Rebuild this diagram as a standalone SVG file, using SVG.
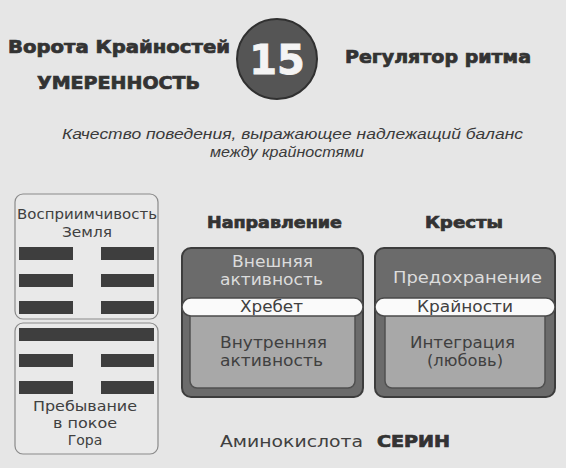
<svg xmlns="http://www.w3.org/2000/svg" width="566" height="468" viewBox="0 0 566 468">
<style>
.bg{fill:#e6e6e6}
.hd{font-family:"DejaVu Sans","Liberation Sans",sans-serif;font-weight:bold;fill:#333333;stroke:#333333;stroke-width:0.7}
.tx{font-family:"DejaVu Sans","Liberation Sans",sans-serif;font-size:15px;fill:#404040}
.sm{font-family:"DejaVu Sans","Liberation Sans",sans-serif;font-size:14px;fill:#404040}
.lt{font-family:"DejaVu Sans","Liberation Sans",sans-serif;font-size:15px;fill:#dcdcdc}
.it{font-family:"Liberation Sans","DejaVu Sans",sans-serif;font-style:italic;font-size:15px;fill:#3a3a3a}
.lbox{fill:#e9e9e9;stroke:#8a8a8a;stroke-width:1.2}
.bar{fill:#3e3e3e}
.outer{fill:#6b6b6b;stroke:#3d3d3d;stroke-width:2}
.inner{fill:#a8a8a8;stroke:#505050;stroke-width:1.5}
.pill{fill:#fafafa;stroke:#4a4a4a;stroke-width:1.5}
</style>
<rect class="bg" x="0" y="0" width="566" height="468"/>

<g id="header">
<text class="hd" x="8" y="53" font-size="17" textLength="222" lengthAdjust="spacingAndGlyphs">Ворота Крайностей</text>
<text class="hd" x="37" y="89" font-size="17" textLength="163" lengthAdjust="spacingAndGlyphs">УМЕРЕННОСТЬ</text>
<text class="hd" x="345" y="63" font-size="17" textLength="186" lengthAdjust="spacingAndGlyphs">Регулятор ритма</text>
</g>

<g id="gate-number">
<circle cx="277" cy="59" r="40" fill="#555555" stroke="#303030" stroke-width="2"/>
<text x="277" y="74" text-anchor="middle" font-family="DejaVu Sans, Liberation Sans, sans-serif" font-weight="bold" font-size="40" fill="#f4f4f4" stroke="#f4f4f4" stroke-width="0.8">15</text>
</g>

<g id="description">
<text class="it" x="62" y="139" textLength="461" lengthAdjust="spacingAndGlyphs">Качество поведения, выражающее надлежащий баланс</text>
<text class="it" x="210" y="157" textLength="154" lengthAdjust="spacingAndGlyphs">между крайностями</text>
</g>

<g id="hexagram-top">
<rect class="lbox" x="15" y="194" width="143" height="125" rx="8"/>
<text class="sm" x="17" y="219" textLength="140" lengthAdjust="spacingAndGlyphs">Восприимчивость</text>
<text class="sm" x="62" y="237" textLength="50" lengthAdjust="spacingAndGlyphs">Земля</text>
<rect class="bar" x="19" y="247" width="54" height="13"/>
<rect class="bar" x="101" y="247" width="53" height="13"/>
<rect class="bar" x="19" y="274" width="54" height="13"/>
<rect class="bar" x="101" y="274" width="53" height="13"/>
<rect class="bar" x="19" y="301" width="54" height="13"/>
<rect class="bar" x="101" y="301" width="53" height="13"/>
</g>

<g id="hexagram-bottom">
<rect class="lbox" x="15" y="323" width="143" height="131" rx="8"/>
<rect class="bar" x="19" y="328" width="135" height="13"/>
<rect class="bar" x="19" y="354" width="54" height="13"/>
<rect class="bar" x="101" y="354" width="53" height="13"/>
<rect class="bar" x="19" y="381" width="54" height="13"/>
<rect class="bar" x="101" y="381" width="53" height="13"/>
<text class="sm" x="33" y="411" textLength="104" lengthAdjust="spacingAndGlyphs">Пребывание</text>
<text class="sm" x="53" y="428" textLength="64" lengthAdjust="spacingAndGlyphs">в покое</text>
<text class="sm" x="85" y="445" text-anchor="middle">Гора</text>
</g>

<g id="direction">
<text class="hd" x="207" y="228" font-size="15" textLength="135" lengthAdjust="spacingAndGlyphs">Направление</text>
<rect class="outer" x="182" y="248" width="181" height="149" rx="9"/>
<path class="inner" d="M190 315 H355 V381 a7 7 0 0 1 -7 7 H197 a7 7 0 0 1 -7 -7 Z"/>
<rect class="pill" x="182" y="298" width="181" height="18" rx="9"/>
<text class="lt" x="232" y="267" textLength="81" lengthAdjust="spacingAndGlyphs">Внешняя</text>
<text class="lt" x="220" y="285" textLength="103" lengthAdjust="spacingAndGlyphs">активность</text>
<text class="tx" x="240" y="312" textLength="63" lengthAdjust="spacingAndGlyphs">Хребет</text>
<text class="tx" x="220" y="348" textLength="107" lengthAdjust="spacingAndGlyphs">Внутренняя</text>
<text class="tx" x="220" y="366" textLength="103" lengthAdjust="spacingAndGlyphs">активность</text>
</g>

<g id="crosses">
<text class="hd" x="425" y="228" font-size="15" textLength="78" lengthAdjust="spacingAndGlyphs">Кресты</text>
<rect class="outer" x="375" y="248" width="180" height="149" rx="9"/>
<path class="inner" d="M385 315 H545 V381 a7 7 0 0 1 -7 7 H392 a7 7 0 0 1 -7 -7 Z"/>
<rect class="pill" x="375" y="298" width="180" height="18" rx="9"/>
<text class="lt" x="393" y="283" textLength="149" lengthAdjust="spacingAndGlyphs">Предохранение</text>
<text class="tx" x="417" y="312" textLength="96" lengthAdjust="spacingAndGlyphs">Крайности</text>
<text class="tx" x="410" y="348" textLength="105" lengthAdjust="spacingAndGlyphs">Интеграция</text>
<text class="tx" x="427" y="366" textLength="76" lengthAdjust="spacingAndGlyphs">(любовь)</text>
</g>

<g id="amino">
<text class="tx" x="220" y="447" textLength="143" lengthAdjust="spacingAndGlyphs">Аминокислота</text>
<text class="hd" x="377" y="447" font-size="15" textLength="73" lengthAdjust="spacingAndGlyphs">СЕРИН</text>
</g>

<g id="connectors"/>
</svg>
